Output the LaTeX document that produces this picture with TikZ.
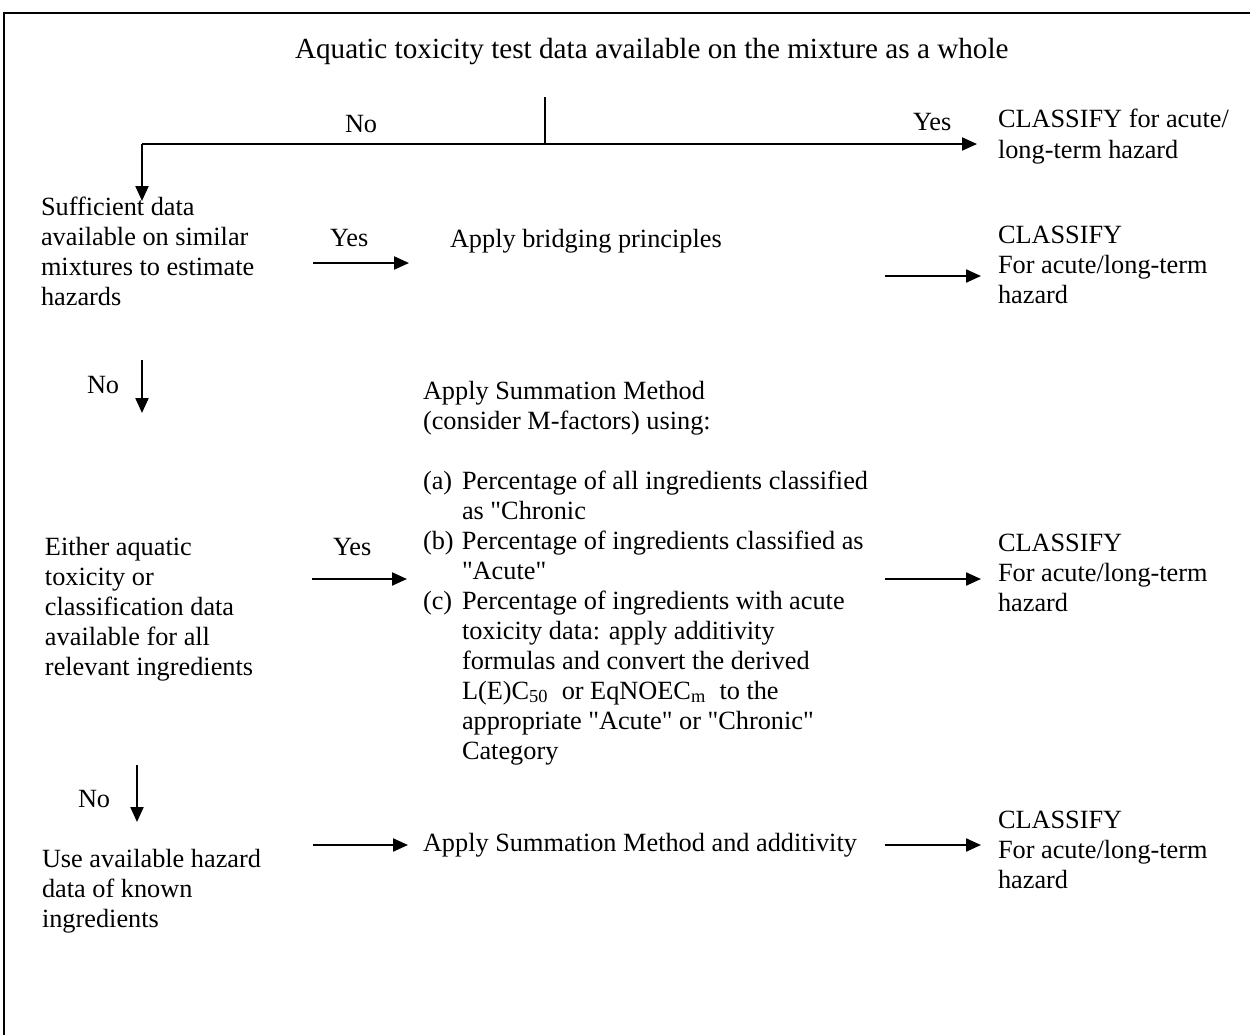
\documentclass[tikz,border=0pt]{standalone}
\usepackage{fontspec}
\setmainfont{Liberation Serif}[Ligatures=TeXOff]
\usetikzlibrary{arrows.meta}
\begin{document}
\begin{tikzpicture}[x=0.5pt,y=-0.5pt,
  txt/.style={anchor=base west,inner sep=0pt,outer sep=0pt,font=\fontsize{13.15pt}{15pt}\selectfont},
  conn/.style={line width=1.1pt,-{Triangle[length=7.5pt,width=6.5pt]}},
  plainline/.style={line width=1.1pt},
  thinline/.style={line width=0.8pt},
  frame/.style={line width=1.4pt}]
\useasboundingbox (0,0) rectangle (1250,1035);
% frame (open to the right and bottom, as cropped)
\draw[frame] (1250,13) -- (4,13) -- (4,1035);

% texts
\node[txt] (title) at (295,58) {\fontsize{14.6pt}{17pt}\selectfont Aquatic toxicity test data available on the mixture as a whole};
\node[txt] (no1) at (345,132) {No};
\node[txt] (yes1) at (913,130) {Yes};
\node[txt] (cls1) at (998,127) {\begin{tabular}[t]{@{}l@{}}CLASSIFY for acute/\\[0.8pt] long-term hazard\end{tabular}};

\node[txt] (suff) at (41,215) {\begin{tabular}[t]{@{}l@{}}Sufficient data\\ available on similar\\ mixtures to estimate\\ hazards\end{tabular}};
\node[txt] (yes2) at (330,246) {Yes};
\node[txt] (bridge) at (450,247) {Apply bridging principles};
\node[txt] (cls2) at (998,243) {\begin{tabular}[t]{@{}l@{}}CLASSIFY\\ For acute/long-term\\ hazard\end{tabular}};

\node[txt] (no2) at (87,393) {No};
\node[txt] (summ) at (423,399) {\begin{tabular}[t]{@{}l@{}}
Apply Summation Method\\
(consider M-factors) using:\\
\\
\makebox[19.5pt][l]{(a)}Percentage of all ingredients classified\\
\hspace*{19.5pt}as "Chronic\\
\makebox[19.5pt][l]{(b)}Percentage of ingredients classified as\\
\hspace*{19.5pt}"Acute"\\
\makebox[19.5pt][l]{(c)}Percentage of ingredients with acute\\
\hspace*{19.5pt}toxicity data: apply additivity\\
\hspace*{19.5pt}formulas and convert the derived\\
\hspace*{19.5pt}L(E)C\textsubscript{50}\ \ or EqNOEC\textsubscript{m}\ \ to the\\
\hspace*{19.5pt}appropriate "Acute" or "Chronic"\\
\hspace*{19.5pt}Category
\end{tabular}};

\node[txt] (either) at (45,555) {\begin{tabular}[t]{@{}l@{}}Either aquatic\\ toxicity or\\ classification data\\ available for all\\ relevant ingredients\end{tabular}};
\node[txt] (yes3) at (333,555) {Yes};
\node[txt] (cls3) at (998,551) {\begin{tabular}[t]{@{}l@{}}CLASSIFY\\ For acute/long-term\\ hazard\end{tabular}};

\node[txt] (no3) at (78,807) {No};
\node[txt] (use) at (42,867) {\begin{tabular}[t]{@{}l@{}}Use available hazard\\ data of known\\ ingredients\end{tabular}};
\node[txt] (summadd) at (423,851) {Apply Summation Method and additivity};
\node[txt] (cls4) at (998,828) {\begin{tabular}[t]{@{}l@{}}CLASSIFY\\ For acute/long-term\\ hazard\end{tabular}};

% connector end points
\coordinate (split) at (545,97);
\coordinate (junc) at (545,144);
\coordinate (lcorner) at (142,144);
\coordinate (d1) at (142,201);
\coordinate (ytip) at (977,144);
\coordinate (a1s) at (313,263); \coordinate (a1e) at (409,263);
\coordinate (a2s) at (885,276); \coordinate (a2e) at (981,276);
\coordinate (v2s) at (142,360); \coordinate (v2e) at (142,413);
\coordinate (a3s) at (312,579); \coordinate (a3e) at (407,579);
\coordinate (a4s) at (885,579); \coordinate (a4e) at (981,579);
\coordinate (v3s) at (137,765); \coordinate (v3e) at (137,822);
\coordinate (a5s) at (313,845); \coordinate (a5e) at (408,845);
\coordinate (a6s) at (885,845); \coordinate (a6e) at (981,845);

% connectors
\draw[thinline] (split) -- (junc);
\draw[plainline] (junc) -- (lcorner);
\draw[conn] (junc) -- (ytip);
\draw[conn] (lcorner) -- (d1);
\draw[conn] (a1s) -- (a1e);
\draw[conn] (a2s) -- (a2e);
\draw[conn] (v2s) -- (v2e);
\draw[conn] (a3s) -- (a3e);
\draw[conn] (a4s) -- (a4e);
\draw[conn] (v3s) -- (v3e);
\draw[conn] (a5s) -- (a5e);
\draw[conn] (a6s) -- (a6e);
\end{tikzpicture}
\end{document}
